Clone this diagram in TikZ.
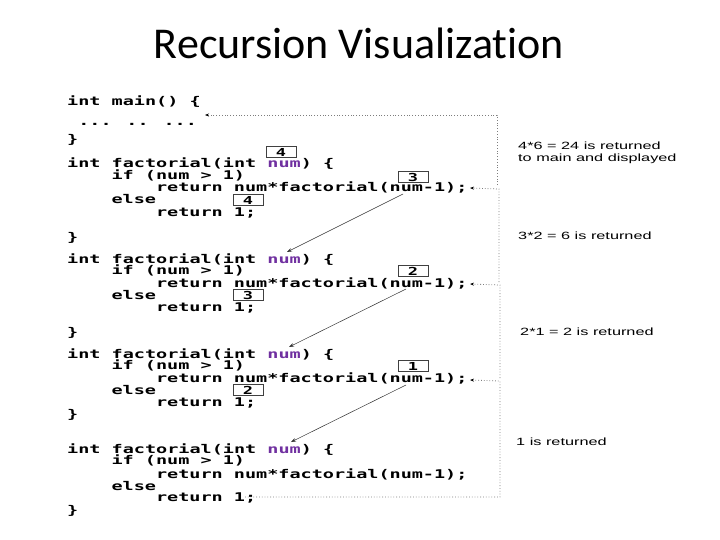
\documentclass[tikz,border=0pt]{standalone}
\usepackage{fontspec}
\setmainfont[Ligatures=NoCommon]{Carlito}
\newfontfamily\codefont[FakeStretch=1.54]{DejaVu Sans Mono}
\newfontfamily\labelfont[FakeStretch=1.55]{Liberation Sans}
\usetikzlibrary{arrows.meta}
\definecolor{numpurple}{RGB}{112,48,160}
\definecolor{retgray}{RGB}{125,125,125}
\tikzset{
  code/.style={anchor=base west, inner sep=0pt, font=\codefont\bfseries\fontsize{12}{12}\selectfont},
  valbox/.style={draw=black!75, line width=0.6pt, minimum width=30pt, minimum height=11pt, inner sep=0pt, font=\codefont\bfseries\fontsize{11}{11}\selectfont},
  retlabel/.style={anchor=base west, inner sep=0pt, font=\labelfont\fontsize{10.5}{12}\selectfont},
  retpath/.style={draw=retgray, dotted, line width=0.8pt, -{Stealth[length=4pt,width=3pt,black]}},
  callarrow/.style={draw=black!80, line width=0.5pt, -{Stealth[length=5pt,width=3.5pt]}},
  titletext/.style={font=\fontsize{44}{44}\selectfont, inner sep=0pt}
}
\newcommand{\pnum}{\textcolor{numpurple}{num}}
\begin{document}
\begin{tikzpicture}[x=1pt,y=-1pt]
\useasboundingbox (0,0) rectangle (720,540);
\node[titletext] (title) at (359,43) {Recursion Visualization};

% main
\node[code] (m1) at (67,106) {int main() \{};
\node[code] (m2) at (78.1,126) {... .. ...};
\node[code] (m3) at (67,144) {\}};

% level 1
\node[code] (a1) at (67,168) {int factorial(int \pnum) \{};
\node[code] (a2) at (111.4,180) {if (num > 1)};
\node[code] (a3) at (155.8,192) {return num*factorial(num-1);};
\node[code] (a4) at (111.4,204) {else};
\node[code] (a5) at (155.8,216) {return 1;};
\node[code] (a6) at (67,241) {\}};
\node[valbox] (ab1) at (281,152) {4};
\node[valbox] (ab2) at (413,177) {3};
\node[valbox] (ab3) at (248,200) {4};

% level 2
\node[code] (b1) at (67,263) {int factorial(int \pnum) \{};
\node[code] (b2) at (111.4,274) {if (num > 1)};
\node[code] (b3) at (155.8,287) {return num*factorial(num-1);};
\node[code] (b4) at (111.4,299) {else};
\node[code] (b5) at (155.8,311) {return 1;};
\node[code] (b6) at (67,336) {\}};
\node[valbox] (bb2) at (413,271) {2};
\node[valbox] (bb3) at (248,295) {3};

% level 3
\node[code] (c1) at (67,358) {int factorial(int \pnum) \{};
\node[code] (c2) at (111.4,369) {if (num > 1)};
\node[code] (c3) at (155.8,382) {return num*factorial(num-1);};
\node[code] (c4) at (111.4,394) {else};
\node[code] (c5) at (155.8,406) {return 1;};
\node[code] (c6) at (67,418) {\}};
\node[valbox] (cb2) at (413,366) {1};
\node[valbox] (cb3) at (248,390) {2};

% level 4
\node[code] (d1) at (67,453) {int factorial(int \pnum) \{};
\node[code] (d2) at (111.4,464) {if (num > 1)};
\node[code] (d3) at (155.8,478) {return num*factorial(num-1);};
\node[code] (d4) at (111.4,490) {else};
\node[code] (d5) at (155.8,501) {return 1;};
\node[code] (d6) at (67,514) {\}};

% labels
\node[retlabel] (l1a) at (518,150) {4*6 = 24 is returned};
\node[retlabel] (l1b) at (518,162) {to main and displayed};
\node[retlabel] (l2) at (518,240) {3*2 = 6 is returned};
\node[retlabel] (l3) at (520,335) {2*1 = 2 is returned};
\node[retlabel] (l4) at (516,445) {1 is returned};

% call arrows endpoints
\coordinate (s1) at (403,194); \coordinate (e1) at (287,252);
\coordinate (s2) at (406,289); \coordinate (e2) at (289,347);
\coordinate (s3) at (406,385); \coordinate (e3) at (291,442);
\draw[callarrow] (s1) -- (e1);
\draw[callarrow] (s2) -- (e2);
\draw[callarrow] (s3) -- (e3);

% return paths
\coordinate (mainret) at (205,115);
\coordinate (r1) at (470,188);
\coordinate (r2) at (470,284);
\coordinate (r3) at (470,380);
\coordinate (r4) at (245,497);
\draw[retpath] (r4) -- (500,497) -- (500,381) -- (r3);
\draw[retpath] (500,378) -- (500,285) -- (r2);
\draw[retpath] (499,282) -- (499,189) -- (r1);
\draw[retpath] (497,185) -- (497,115) -- (mainret);
\end{tikzpicture}
\end{document}
